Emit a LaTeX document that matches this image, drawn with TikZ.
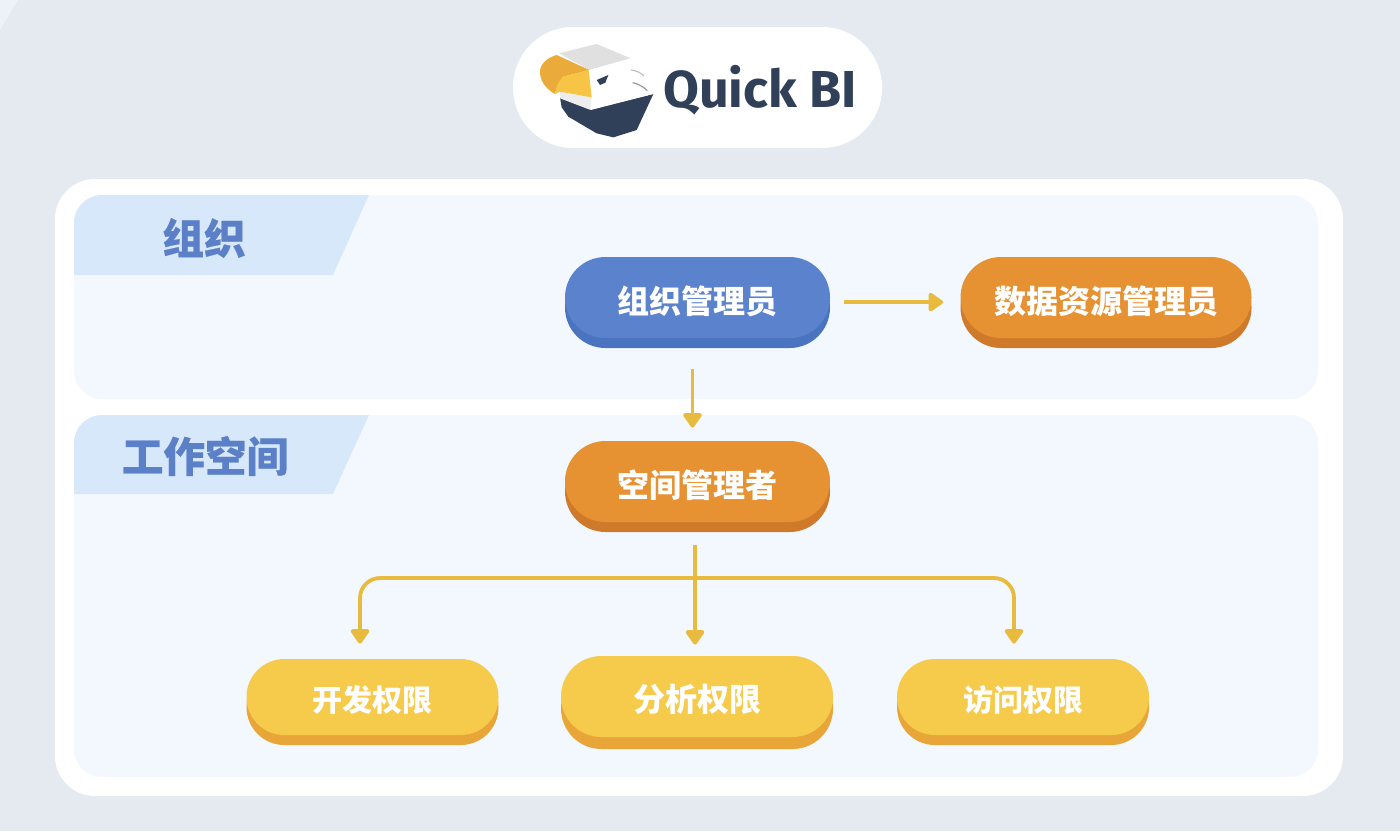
\documentclass[tikz,border=0pt]{standalone}
\usepackage{fontspec}
\usetikzlibrary{shadows,arrows.meta}
\newfontfamily\cjk{Noto Sans CJK SC}
\newfontfamily\cjkh[BoldFeatures={FakeBold=0.5}]{Noto Sans CJK SC}
\newfontfamily\logofont{Fira Sans}
\definecolor{bgc}{HTML}{E5E9F0}
\definecolor{panelc}{HTML}{F3F8FE}
\definecolor{tabc}{HTML}{D8E8FB}
\definecolor{tabtext}{HTML}{5B80C8}
\definecolor{linec}{HTML}{E8BB3F}
\definecolor{bluef}{HTML}{5B82CC}
\definecolor{blues}{HTML}{4A74BF}
\definecolor{orangef}{HTML}{E69132}
\definecolor{oranges}{HTML}{CF7A2B}
\definecolor{yellowf}{HTML}{F6CA4B}
\definecolor{yellows}{HTML}{E9A638}
\definecolor{navyc}{HTML}{2F4058}
\tikzset{
  pillbase/.style={rectangle,rounded corners=20.2pt,inner sep=0pt,text=white,font=\cjk\bfseries\fontsize{16}{18}\selectfont,minimum height=40.5pt,text depth=0pt,text height=15.8pt},
  bluepill/.style={pillbase,fill=bluef,copy shadow={shadow xshift=0pt,shadow yshift=-5pt,fill=blues,draw=none}},
  orangepill/.style={pillbase,fill=orangef,copy shadow={shadow xshift=0pt,shadow yshift=-5pt,fill=oranges,draw=none}},
  yellowpill/.style={pillbase,fill=yellowf,text height=15.2pt,copy shadow={shadow xshift=0pt,shadow yshift=-6pt,fill=yellows,draw=none}},
  smallpill/.style={pillbase,fill=yellowf,copy shadow={shadow xshift=0pt,shadow yshift=-5pt,fill=yellows,draw=none},rounded corners=18.9pt,minimum width=126pt,minimum height=38pt,font=\cjk\bfseries\fontsize{15}{18}\selectfont,text height=14.4pt},
  tabshape/.style={fill=tabc},
  tablabel/.style={text=tabtext,font=\cjkh\bfseries\fontsize{20.8}{24}\selectfont,inner sep=0pt},
  conn/.style={draw=linec,line width=1.9pt,-{Triangle[width=10.5pt,length=8pt,round]}},
}
\begin{document}
\begin{tikzpicture}[x=0.5pt,y=-0.5pt]
\useasboundingbox (0,0) rectangle (1400,831);
\fill[bgc] (0,0) rectangle (1400,831);
\fill[panelc!60!bgc] (0,0) -- (18,0) -- (0,30) -- cycle;
% logo pill
\fill[white,rounded corners=30pt] (513,27) rectangle (882,148);
\begin{scope}[shift={(500,20)},x=0.16667pt,y=-0.16667pt]
  \fill[navyc] (180,232) -- (270,268) -- (460,222) -- (410,330) -- (340,352) -- (290,340) -- (205,290) -- (185,262) -- cycle;
  \fill[white!88!black] (178,100) -- (290,72) -- (392,115) -- (268,150) -- cycle;
  \fill[white!93!black] (180,215) -- (275,232) -- (272,270) -- (180,235) -- cycle;
  \fill[white] (268,150) -- (392,115) -- (400,150) -- (430,165) -- (425,195) -- (460,222) -- (272,270) -- (275,232) -- cycle;
  \fill[yellows!85!yellowf] (120,150) .. controls (125,125) and (150,110) .. (170,105) -- (268,150) -- (190,170) .. controls (175,185) and (170,200) .. (165,222) .. controls (135,205) and (118,180) .. (120,150) -- cycle;
  \fill[yellowf!92!orange] (165,222) .. controls (170,200) and (175,185) .. (190,170) -- (266,150) -- (275,232) -- (180,215) -- cycle;
  \fill[navyc] (290,180) -- (325,165) -- (316,188) -- (300,195) -- cycle;
  \draw[white!75!black,line width=0.6pt] (393,150) .. controls (410,152) and (422,158) .. (432,168);
  \draw[white!60!black,line width=0.6pt] (398,188) .. controls (415,192) and (430,200) .. (442,212);
\end{scope}
\node[text=navyc,font=\logofont\bfseries\fontsize{26}{30}\selectfont,inner sep=0pt] (logotext) at (760,90) {Quick BI};
% card
\fill[white,rounded corners=20pt] (55,179) rectangle (1343,796);
\fill[panelc,rounded corners=14pt] (74,195) rectangle (1318,399);
\fill[panelc,rounded corners=14pt] (74,415) rectangle (1318,777);
% tabs
\fill[tabshape] (74,275) [rounded corners=14pt] -- (74,195) [sharp corners] -- (369,195) -- (333,275) -- cycle;
\fill[tabshape] (74,494) [rounded corners=14pt] -- (74,415) [sharp corners] -- (369,415) -- (333,494) -- cycle;
\node[tablabel] (orglabel) at (204,238) {组织};
\node[tablabel] (wslabel) at (205,456) {工作空间};
% pills
\node[bluepill,minimum width=132.5pt] (org) at (697.5,297.5) {组织管理员};
\node[orangepill,minimum width=145.5pt] (data) at (1106,297.5) {数据资源管理员};
\node[orangepill,minimum width=132.5pt] (space) at (697.5,481.5) {空间管理者};
\node[smallpill] (dev) at (372.5,697) {开发权限};
\node[yellowpill,minimum width=136pt] (ana) at (697,696.5) {分析权限};
\node[smallpill] (acc) at (1023,697) {访问权限};
% connectors
\draw[conn,shorten <=7pt,shorten >=8.5pt] ([yshift=-2.3pt]org.east) -- ([yshift=-2.3pt]data.west);
\draw[conn,shorten <=15.5pt,shorten >=6.5pt] ([xshift=-2.5pt]org.south) -- ([xshift=-2.5pt]space.north);
\draw[conn,shorten <=11.5pt,shorten >=5.5pt] ([xshift=-1.25pt]space.south) -- ([xshift=-1pt]ana.north);
\coordinate (hub) at (695,578);
\draw[conn,rounded corners=10pt,shorten >=7.5pt] (hub) -| ([xshift=-6.25pt]dev.north);
\draw[conn,rounded corners=10pt,shorten >=7.5pt] (hub) -| ([xshift=-4.5pt]acc.north);
\end{tikzpicture}
\end{document}
